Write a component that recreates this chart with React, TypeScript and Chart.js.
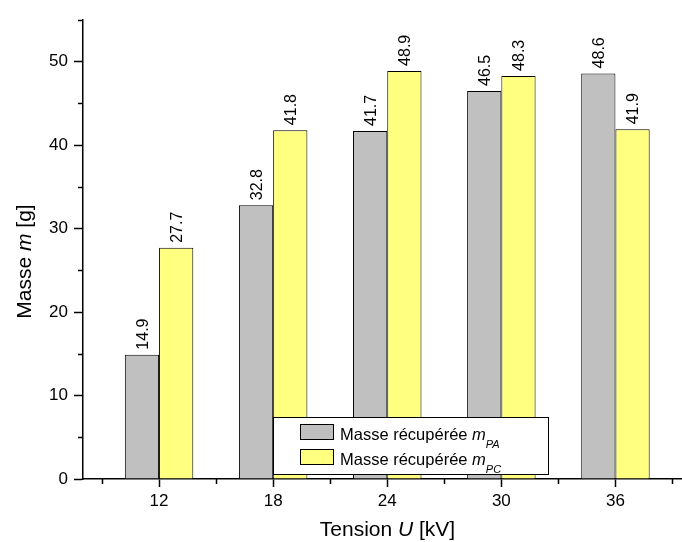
import { useEffect, useRef } from "react";
import { Chart, registerables } from "chart.js";

Chart.register(...registerables);

const FAMILY = "'Liberation Sans', Arial, Helvetica, sans-serif";

// ---- data ----
const voltages = [12, 18, 24, 30, 36];
const massPA = [14.9, 32.8, 41.7, 46.5, 48.6];
const massPC = [27.7, 41.8, 48.9, 48.3, 41.9];

const xMajorTicks = [12, 18, 24, 30, 36];
const xMinorTicks = [9, 15, 21, 27, 33, 39];
const yMajorTicks = [0, 10, 20, 30, 40, 50];
const yMinorTicks = [5, 15, 25, 35, 45, 55];

const seriesText = ["Masse récupérée ", "Masse récupérée "];
const seriesSymbol = ["m", "m"];
const seriesSub = ["PA", "PC"];
const seriesFill = ["#C0C0C0", "#FFFF80"];

const xTitleParts = ["Tension ", "U", " [kV]"];
const yTitleParts = ["Masse ", "m", " [g]"];

function drawMixed(ctx: CanvasRenderingContext2D, parts: string[], size: number, x: number, y: number, center: boolean) {
  const fonts = [`${size}px ${FAMILY}`, `italic ${size}px ${FAMILY}`, `${size}px ${FAMILY}`];
  let total = 0;
  parts.forEach((p, i) => {
    ctx.font = fonts[i];
    total += ctx.measureText(p).width;
  });
  let cx = center ? x - total / 2 : x;
  parts.forEach((p, i) => {
    ctx.font = fonts[i];
    ctx.fillText(p, cx, y);
    cx += ctx.measureText(p).width;
  });
}

const decorPlugin = {
  id: "decor",
  afterDatasetsDraw(chart: any) {
    const ctx: CanvasRenderingContext2D = chart.ctx;
    // value labels
    chart.data.datasets.forEach((ds: any, i: number) => {
      const meta = chart.getDatasetMeta(i);
      meta.data.forEach((bar: any, j: number) => {
        const v = ds.data[j].y;
        const { x, y } = bar.getProps(["x", "y"], true);
        ctx.save();
        ctx.translate(x + 5.8, y - 5);
        ctx.rotate(-Math.PI / 2);
        ctx.font = `16px ${FAMILY}`;
        ctx.fillStyle = "#000";
        ctx.textAlign = "left";
        ctx.textBaseline = "alphabetic";
        ctx.fillText(v.toFixed(1), 0, 0);
        ctx.restore();
      });
    });
  },
  afterDraw(chart: any) {
    const ctx: CanvasRenderingContext2D = chart.ctx;
    const xs = chart.scales.x;
    const ys = chart.scales.y;
    const area = chart.chartArea;
    ctx.save();
    ctx.strokeStyle = "#000";
    ctx.lineWidth = 1.5;
    // minor ticks
    ctx.beginPath();
    xMinorTicks.forEach((t) => {
      const px = Math.round(xs.getPixelForValue(t)) + 0.5;
      ctx.moveTo(px, area.bottom);
      ctx.lineTo(px, area.bottom + 5);
    });
    yMinorTicks.forEach((t) => {
      const py = Math.round(ys.getPixelForValue(t)) + 0.5;
      ctx.moveTo(area.left, py);
      ctx.lineTo(area.left - 5, py);
    });
    ctx.stroke();

    // legend
    const lx = 273.5, ly = 417.5, lw = 275, lh = 57;
    ctx.fillStyle = "#fff";
    ctx.fillRect(lx, ly, lw, lh);
    ctx.lineWidth = 1;
    ctx.strokeRect(lx, ly, lw, lh);
    seriesText.forEach((txt, i) => {
      const top = 424.5 + i * 25;
      ctx.fillStyle = seriesFill[i];
      ctx.fillRect(300.5, top, 33, 15);
      ctx.strokeStyle = "#000";
      ctx.strokeRect(300.5, top, 33, 15);
      ctx.fillStyle = "#000";
      ctx.textBaseline = "alphabetic";
      ctx.textAlign = "left";
      const base = top + 15;
      ctx.font = `16.5px ${FAMILY}`;
      ctx.fillText(txt, 340, base);
      let cx = 340 + ctx.measureText(txt).width;
      ctx.font = `italic 16.5px ${FAMILY}`;
      ctx.fillText(seriesSymbol[i], cx, base);
      cx += ctx.measureText(seriesSymbol[i]).width;
      ctx.font = `italic 11px ${FAMILY}`;
      ctx.fillText(seriesSub[i], cx, base + 8);
    });

    // axis titles
    ctx.fillStyle = "#000";
    ctx.textAlign = "left";
    ctx.textBaseline = "alphabetic";
    drawMixed(ctx, xTitleParts, 21, (area.left + area.right) / 2 + 5, 536, true);
    ctx.save();
    ctx.translate(31, (area.top + area.bottom) / 2 + 12);
    ctx.rotate(-Math.PI / 2);
    drawMixed(ctx, yTitleParts, 21, 0, 0, true);
    ctx.restore();
    ctx.restore();
  },
};

export default function App() {
  const ref = useRef<HTMLCanvasElement | null>(null);
  useEffect(() => {
    if (!ref.current) return;
    const chart = new Chart(ref.current, {
      type: "bar",
      data: {
        datasets: [
          {
            label: seriesText[0] + seriesSymbol[0] + seriesSub[0],
            data: voltages.map((v, i) => ({ x: v, y: massPA[i] })),
            backgroundColor: seriesFill[0],
            borderColor: "#000",
            borderWidth: 1,
          },
          {
            label: seriesText[1] + seriesSymbol[1] + seriesSub[1],
            data: voltages.map((v, i) => ({ x: v, y: massPC[i] })),
            backgroundColor: seriesFill[1],
            borderColor: "#000",
            borderWidth: 1,
          },
        ],
      },
      options: {
        responsive: false,
        animation: false,
        events: [],
        categoryPercentage: 0.6,
        barPercentage: 1.0,
        layout: { padding: { top: 20, right: 0, left: 0, bottom: 0 } },
        plugins: { legend: { display: false }, tooltip: { enabled: false } },
        scales: {
          x: {
            type: "linear",
            min: 8,
            max: 39.5,
            offset: false,
            afterBuildTicks: (s: any) => {
              s.ticks = xMajorTicks.map((v) => ({ value: v }));
            },
            afterFit: (s: any) => {
              s.height = 63;
            },
            grid: {
              offset: false,
              drawOnChartArea: false,
              drawTicks: true,
              tickLength: 8,
              tickColor: "#000",
              tickWidth: 1.5,
              color: "#000",
            },
            border: { display: true, color: "#000", width: 1.5 },
            ticks: {
              color: "#000",
              font: { family: FAMILY, size: 17 },
              padding: 4,
              maxRotation: 0,
              autoSkip: false,
              callback: (v: any) => String(v),
            },
          },
          y: {
            type: "linear",
            min: 0,
            max: 55,
            afterBuildTicks: (s: any) => {
              s.ticks = yMajorTicks.map((v) => ({ value: v }));
            },
            afterFit: (s: any) => {
              s.width = 83;
            },
            grid: {
              drawOnChartArea: false,
              drawTicks: true,
              tickLength: 9,
              tickColor: "#000",
              tickWidth: 1.5,
              color: "#000",
            },
            border: { display: true, color: "#000", width: 1.5 },
            ticks: {
              color: "#000",
              font: { family: FAMILY, size: 17 },
              padding: 6,
              callback: (v: any) => String(v),
            },
          },
        },
      },
      plugins: [decorPlugin],
    });
    return () => chart.destroy();
  }, []);
  return (
    <div style={{ position: "absolute", left: 0, top: 0, width: 682, height: 542, background: "#fff" }}>
      <canvas ref={ref} width={682} height={542} style={{ display: "block" }} />
    </div>
  );
}
